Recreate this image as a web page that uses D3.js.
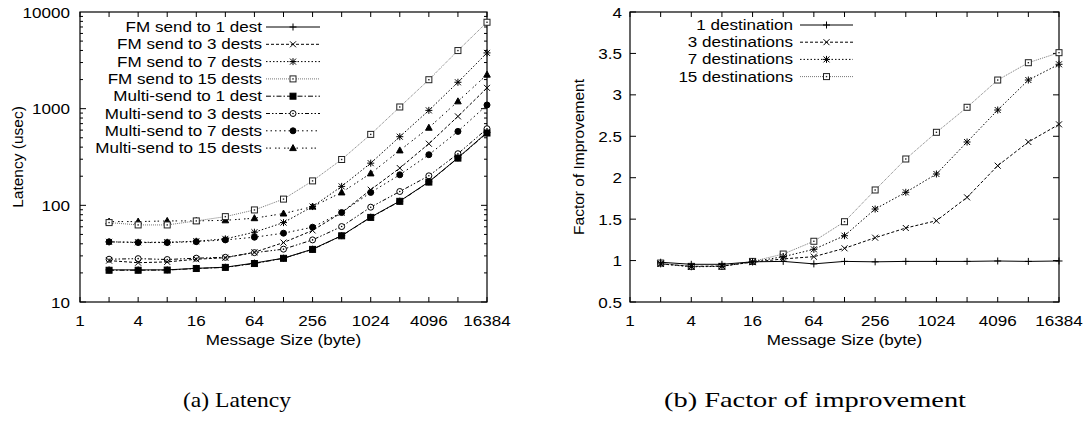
<!DOCTYPE html>
<html><head><meta charset="utf-8">
<script src="https://cdn.jsdelivr.net/npm/d3@7"></script>
<style>body{margin:0;background:#fff}svg{display:block}</style>
</head><body>
<script>
// ---------- data ----------
const sizes = [2,4,8,16,32,64,128,256,512,1024,2048,4096,8192,16384];
const xTickLabels = [1,4,16,64,256,1024,4096,16384];
const latYTicks = [10,100,1000,10000];
const facYTicks = [0.5,1,1.5,2,2.5,3,3.5,4];

const latNames = ["FM send to 1 dest","FM send to 3 dests","FM send to 7 dests","FM send to 15 dests",
  "Multi-send to 1 dest","Multi-send to 3 dests","Multi-send to 7 dests","Multi-send to 15 dests"];
const fm1  = [21.5,21.5,21.5,22.3,22.9,25.3,28.4,35.2,48.6,75.5,110.6,175,310,568];
const fm3  = [26.8,25.5,26.0,27.7,28.7,32.7,41.2,55.0,84.0,145,243,434,832,1641];
const fm7  = [41.9,41.5,41.5,42.5,45.0,52.7,66.3,97.1,157,273,513,960,1875,3775];
const fm15 = [66.3,62.7,62.7,69,76.4,89.6,116,179,298,542,1041,1993,3991,7833];
const ms1  = [21.3,21.3,21.4,22.2,22.8,25.0,28.3,35.0,48.4,75.0,110,174,308,560];
const ms3  = [27.7,28.1,27.5,28.4,29.0,32.4,35.2,43.9,60.3,95.7,139,202,342,620];
const ms7  = [41.9,41.2,41.2,42.1,43.9,46.8,51.5,59.4,84.2,136,207,334,582,1092];
const ms15 = [67.9,67.9,69,69,70,73.6,82.3,97,136,214,370,635,1191,2249];

const facNames = ["1 destination","3 destinations","7 destinations","15 destinations"];
const f1  = [0.98,0.955,0.955,0.985,0.99,0.96,0.99,0.985,0.99,0.99,0.99,0.995,0.99,0.995];
const f3  = [0.96,0.93,0.935,0.98,1.02,1.047,1.148,1.276,1.393,1.481,1.763,2.145,2.431,2.644];
const f7  = [0.96,0.925,0.93,0.985,1.047,1.136,1.30,1.622,1.824,2.045,2.431,2.817,3.179,3.369];
const f15 = [0.97,0.93,0.93,0.99,1.079,1.233,1.469,1.852,2.226,2.548,2.85,3.179,3.388,3.509];

// ---------- styles ----------
const styles = {
  fm1:{dash:null,color:"#000",mk:"plus"},
  fm3:{dash:"3,2",color:"#000",mk:"cross"},
  fm7:{dash:"1.5,2",color:"#000",mk:"star"},
  fm15:{dash:"1,1",color:"#777",mk:"box"},
  ms1:{dash:"5,2,1.5,2",color:"#000",mk:"fbox"},
  ms3:{dash:"4,2,1.5,2,1.5,2",color:"#000",mk:"circle"},
  ms7:{dash:"1.5,3",color:"#000",mk:"fcircle"},
  ms15:{dash:"1.5,2,1.5,4",color:"#000",mk:"ftri"}
};

const W=1089,H=430;
const svg=d3.select("body").append("svg").attr("width",W).attr("height",H);
const FONT="'Liberation Sans', Arial, Helvetica, sans-serif";
const SX=1.1, FS=15.5;

function txt(g,x,y,s,anchor,rot){
  const t=g.append("text").attr("font-family",FONT).attr("font-size",FS)
    .attr("text-anchor",anchor||"start")
    .attr("transform",`translate(${x},${y})`+(rot?` rotate(${rot})`:"")+` scale(${rot?1:SX},1)`)
    .text(s);
  return t;
}

function marker(g,type,x,y,color){
  const c=color||"#000", s=3;
  const p=g.append("g").attr("transform",`translate(${x},${y})`).attr("stroke",c).attr("stroke-width",1).attr("fill","none");
  if(type==="plus"||type==="star"){p.append("path").attr("d",`M${-3.5},0H3.5M0,-3.5V3.5`);}
  if(type==="cross"||type==="star"){p.append("path").attr("d",`M-3,-3L3,3M-3,3L3,-3`);}
  if(type==="box"){p.append("rect").attr("x",-s).attr("y",-s).attr("width",2*s).attr("height",2*s).attr("fill","#fff").attr("stroke","#222");
    p.append("rect").attr("x",-0.7).attr("y",-0.7).attr("width",1.4).attr("height",1.4).attr("fill","#222").attr("stroke","none");}
  if(type==="fbox"){p.append("rect").attr("x",-s).attr("y",-s).attr("width",2*s).attr("height",2*s).attr("fill",c);}
  if(type==="circle"){p.append("circle").attr("r",s).attr("fill","#fff");
    p.append("circle").attr("r",0.8).attr("fill",c).attr("stroke","none");}
  if(type==="fcircle"){p.append("circle").attr("r",s).attr("fill",c);}
  if(type==="ftri"){p.append("path").attr("d",`M0,-3.5L3.3,2.5L-3.3,2.5Z`).attr("fill",c);}
}

function frameAndXAxis(g,x,y,x0,x1,y0,y1){
  g.append("rect").attr("x",x0).attr("y",y1).attr("width",x1-x0).attr("height",y0-y1)
    .attr("fill","none").attr("stroke","#000").attr("stroke-width",1.2);
  const xt=[];for(let k=0;k<=14;k++)xt.push(Math.pow(2,k));
  xt.forEach(v=>{
    const px=x(v);
    g.append("line").attr("x1",px).attr("x2",px).attr("y1",y0).attr("y2",y0-5).attr("stroke","#000");
    g.append("line").attr("x1",px).attr("x2",px).attr("y1",y1).attr("y2",y1+5).attr("stroke","#000");
  });
  xTickLabels.forEach(v=>txt(g,x(v),326,String(v),"middle"));
  txt(g,(x0+x1)/2,345,"Message Size (byte)","middle");
}

function drawSeries(g,x,y,vals,st){
  const line=d3.line().x((d,i)=>x(sizes[i])).y(d=>y(d));
  g.append("path").datum(vals).attr("d",line).attr("fill","none").attr("stroke",st.color)
    .attr("stroke-width",1).attr("stroke-dasharray",st.dash);
  vals.forEach((v,i)=>marker(g,st.mk,x(sizes[i]),y(v),st.mk==="box"?"#222":st.color));
}

function legendRow(g,xr,y,name,st,l0,l1){
  txt(g,xr,y+5,name,"end");
  g.append("line").attr("x1",l0).attr("x2",l1).attr("y1",y).attr("y2",y)
    .attr("stroke",st.color).attr("stroke-width",1).attr("stroke-dasharray",st.dash);
  marker(g,st.mk,(l0+l1)/2,y,st.mk==="box"?"#222":st.color);
}

// ---------- left chart ----------
{
  const g=svg.append("g");
  const x=d3.scaleLog().base(2).domain([1,16384]).range([80,487]);
  const y=d3.scaleLog().domain([10,10000]).range([302,12]);
  frameAndXAxis(g,x,y,80,487,302,12);
  for(let d=10; d<10000; d*=10){
    for(let m=1;m<10;m++){
      const v=d*m, py=y(v), len=m===1?6:3;
      g.append("line").attr("x1",80).attr("x2",80+len).attr("y1",py).attr("y2",py).attr("stroke","#000");
      g.append("line").attr("x1",487).attr("x2",487-len).attr("y1",py).attr("y2",py).attr("stroke","#000");
    }
  }
  latYTicks.forEach(v=>txt(g,70,y(v)+5.5,String(v),"end"));
  txt(g,23,157,"Latency (usec)","middle",-90);
  const keys=["fm1","fm3","fm7","fm15","ms1","ms3","ms7","ms15"];
  const data={fm1,fm3,fm7,fm15,ms1,ms3,ms7,ms15};
  keys.slice().reverse().forEach(k=>drawSeries(g,x,y,data[k],styles[k]));
  keys.forEach((k,i)=>legendRow(g,262,27+i*17.3,latNames[i],styles[k],266,320));
}

// ---------- right chart ----------
{
  const g=svg.append("g");
  const x=d3.scaleLog().base(2).domain([1,16384]).range([630,1059]);
  const y=d3.scaleLinear().domain([0.5,4]).range([302,12]);
  frameAndXAxis(g,x,y,630,1059,302,12);
  facYTicks.forEach(v=>{
    const py=y(v);
    g.append("line").attr("x1",630).attr("x2",636).attr("y1",py).attr("y2",py).attr("stroke","#000");
    g.append("line").attr("x1",1059).attr("x2",1053).attr("y1",py).attr("y2",py).attr("stroke","#000");
    txt(g,622,py+5.5,String(v),"end");
  });
  txt(g,584,157,"Factor of Improvement","middle",-90);
  const keys=["fm1","fm3","fm7","fm15"];
  const vals=[f1,f3,f7,f15];
  [3,2,1,0].forEach(i=>drawSeries(g,x,y,vals[i],styles[keys[i]]));
  keys.forEach((k,i)=>legendRow(g,793,25+i*17.2,facNames[i],styles[k],800,853));
}

// ---------- captions ----------
const SERIF="'Liberation Serif','DejaVu Serif',serif";
svg.append("text").attr("x",237).attr("y",407).attr("text-anchor","middle").attr("font-family",SERIF)
  .attr("font-size",21).attr("textLength",108).attr("lengthAdjust","spacingAndGlyphs").text("(a) Latency");
svg.append("text").attr("x",815).attr("y",407).attr("text-anchor","middle").attr("font-family",SERIF)
  .attr("font-size",21).attr("textLength",302).attr("lengthAdjust","spacingAndGlyphs").text("(b) Factor of improvement");
</script>
</body></html>
